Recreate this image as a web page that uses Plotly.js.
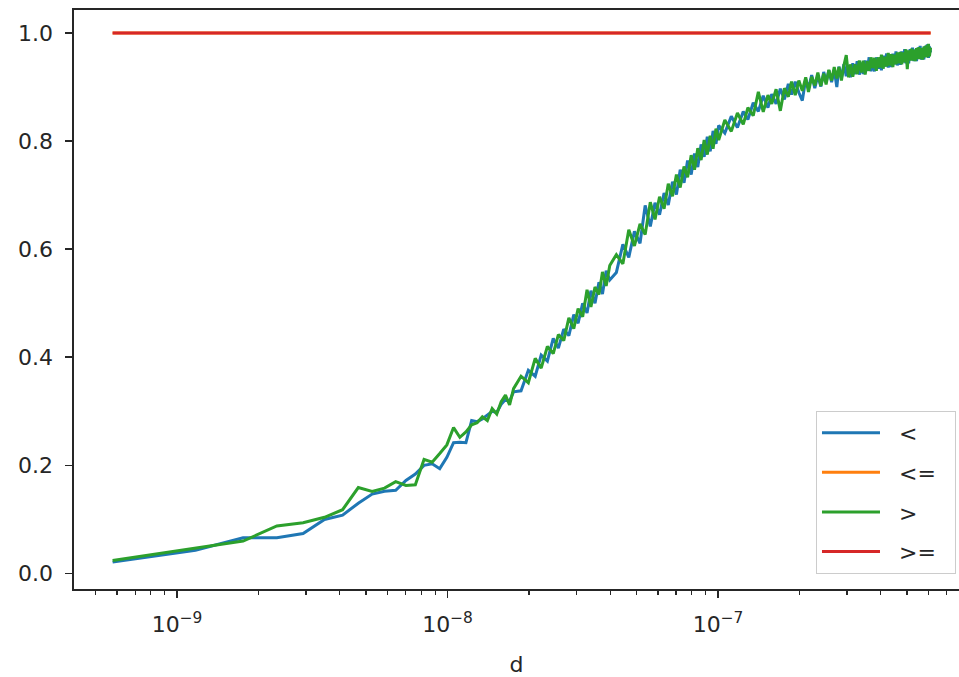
<!DOCTYPE html>
<html>
<head>
<meta charset="utf-8">
<script src="https://cdn.plot.ly/plotly-3.0.1.min.js"></script>
<style>html,body{margin:0;padding:0;background:#fff;}#chart{width:959px;height:677px;}</style>
</head>
<body>
<div id="chart"></div>
<script>
// shared x values (d)
const d = [
  5.78e-10, 1.17e-9, 1.755e-9, 2.34e-9, 2.925e-9, 3.51e-9, 4.095e-9, 4.68e-9, 5.265e-9, 5.85e-9,
  6.435e-9, 7.02e-9, 7.605e-9, 8.19e-9, 8.775e-9, 9.36e-9, 9.945e-9, 1.053e-8, 1.111e-8, 1.17e-8,
  1.2285e-8, 1.287e-8, 1.3455e-8, 1.404e-8, 1.4625e-8, 1.521e-8, 1.5795e-8, 1.638e-8, 1.6965e-8, 1.755e-8,
  1.87e-8, 1.99e-8, 2.11e-8, 2.22e-8, 2.34e-8, 2.46e-8, 2.57e-8, 2.69e-8, 2.81e-8, 2.93e-8,
  3.04e-8, 3.16e-8, 3.28e-8, 3.39e-8, 3.51e-8, 3.63e-8, 3.74e-8, 3.86e-8, 3.98e-8,
  4.21e-8, 4.45e-8, 4.68e-8, 4.91e-8, 5.15e-8, 5.38e-8, 5.62e-8, 5.85e-8, 6.08e-8, 6.32e-8,
  6.55e-8, 6.79e-8, 7.02e-8, 7.25e-8, 7.49e-8, 7.72e-8, 7.96e-8, 8.19e-8, 8.42e-8, 8.66e-8,
  8.89e-8, 9.13e-8, 9.36e-8, 9.59e-8, 9.83e-8, 1.006e-7,
  1.06e-7, 1.12e-7, 1.18e-7, 1.24e-7, 1.29e-7, 1.35e-7, 1.41e-7, 1.47e-7, 1.53e-7, 1.58e-7,
  1.64e-7, 1.70e-7, 1.76e-7, 1.82e-7, 1.87e-7, 1.93e-7, 1.99e-7, 2.05e-7, 2.11e-7, 2.16e-7,
  2.22e-7, 2.28e-7, 2.34e-7, 2.40e-7, 2.46e-7, 2.51e-7, 2.57e-7, 2.63e-7, 2.69e-7, 2.75e-7,
  2.80e-7, 2.86e-7, 2.92e-7, 2.98e-7, 3.04e-7, 3.09e-7, 3.15e-7, 3.21e-7, 3.27e-7, 3.33e-7,
  3.39e-7, 3.44e-7, 3.50e-7, 3.56e-7, 3.62e-7, 3.68e-7, 3.73e-7, 3.79e-7, 3.85e-7, 3.91e-7,
  3.97e-7, 4.02e-7, 4.08e-7, 4.14e-7, 4.20e-7, 4.26e-7, 4.31e-7, 4.37e-7, 4.43e-7, 4.49e-7,
  4.55e-7, 4.60e-7, 4.66e-7, 4.72e-7, 4.78e-7, 4.84e-7, 4.90e-7, 4.95e-7, 5.01e-7, 5.07e-7,
  5.13e-7, 5.19e-7, 5.24e-7, 5.30e-7, 5.36e-7, 5.42e-7, 5.48e-7, 5.53e-7, 5.59e-7, 5.65e-7,
  5.71e-7, 5.77e-7, 5.82e-7, 5.88e-7, 5.94e-7, 6.00e-7, 6.05e-7, 6.11e-7
];

// series "<"
const lt = [
  0.021, 0.043, 0.066, 0.066, 0.074, 0.100, 0.108, 0.130, 0.147, 0.152,
  0.154, 0.172, 0.184, 0.200, 0.203, 0.194, 0.215, 0.242, 0.243, 0.242,
  0.283, 0.281, 0.286, 0.293, 0.300, 0.298, 0.313, 0.322, 0.319, 0.336,
  0.338, 0.376, 0.365, 0.404, 0.393, 0.435, 0.417, 0.452, 0.440, 0.479,
  0.463, 0.500, 0.482, 0.523, 0.500, 0.539, 0.517, 0.560, 0.543,
  0.557, 0.609, 0.585, 0.633, 0.611, 0.681, 0.642, 0.686, 0.664, 0.704,
  0.682, 0.725, 0.701, 0.747, 0.723, 0.764, 0.738, 0.777, 0.752, 0.794,
  0.771, 0.808, 0.781, 0.819, 0.795, 0.829,
  0.815, 0.846, 0.825, 0.855, 0.840, 0.871, 0.855, 0.884, 0.862, 0.887,
  0.869, 0.897, 0.877, 0.906, 0.886, 0.910, 0.890, 0.875, 0.915, 0.897,
  0.922, 0.898, 0.921, 0.901, 0.928, 0.909, 0.931, 0.909, 0.932, 0.900,
  0.938, 0.917, 0.942, 0.920, 0.941, 0.918, 0.944, 0.924, 0.948, 0.923,
  0.945, 0.924, 0.949, 0.930, 0.955, 0.929, 0.951, 0.929, 0.955, 0.934,
  0.954, 0.931, 0.958, 0.938, 0.962, 0.936, 0.958, 0.937, 0.962, 0.942,
  0.966, 0.940, 0.962, 0.941, 0.966, 0.946, 0.970, 0.944, 0.966, 0.944,
  0.970, 0.950, 0.973, 0.948, 0.969, 0.948, 0.973, 0.953, 0.976, 0.951,
  0.972, 0.951, 0.976, 0.956, 0.979, 0.954, 0.975, 0.964
];

// series ">"
const gt = [
  0.024, 0.046, 0.060, 0.088, 0.094, 0.104, 0.118, 0.159, 0.152, 0.158,
  0.170, 0.163, 0.164, 0.211, 0.206, 0.222, 0.238, 0.270, 0.252, 0.262,
  0.275, 0.279, 0.290, 0.283, 0.305, 0.295, 0.318, 0.330, 0.312, 0.342,
  0.365, 0.353, 0.398, 0.380, 0.420, 0.407, 0.442, 0.431, 0.473, 0.453,
  0.490, 0.475, 0.525, 0.493, 0.530, 0.516, 0.558, 0.532, 0.570,
  0.590, 0.573, 0.636, 0.606, 0.647, 0.627, 0.687, 0.655, 0.697, 0.675,
  0.721, 0.698, 0.738, 0.714, 0.753, 0.733, 0.774, 0.747, 0.787, 0.765,
  0.802, 0.775, 0.810, 0.786, 0.823, 0.802,
  0.839, 0.818, 0.852, 0.831, 0.862, 0.847, 0.891, 0.854, 0.885, 0.869,
  0.896, 0.856, 0.898, 0.882, 0.910, 0.885, 0.912, 0.893, 0.918, 0.891,
  0.919, 0.903, 0.927, 0.902, 0.925, 0.905, 0.932, 0.912, 0.937, 0.916,
  0.937, 0.912, 0.940, 0.959, 0.918, 0.942, 0.919, 0.942, 0.924, 0.949,
  0.927, 0.949, 0.923, 0.948, 0.930, 0.955, 0.935, 0.954, 0.930, 0.955,
  0.936, 0.960, 0.934, 0.956, 0.938, 0.963, 0.940, 0.961, 0.937, 0.960,
  0.942, 0.964, 0.944, 0.965, 0.942, 0.964, 0.946, 0.970, 0.933, 0.968,
  0.949, 0.971, 0.949, 0.969, 0.948, 0.972, 0.952, 0.974, 0.952, 0.972,
  0.951, 0.975, 0.955, 0.977, 0.955, 0.980, 0.957, 0.973
];

// series "<=" and ">=" (constant, span the same d range)
const dEnds = [5.78e-10, 6.11e-7];
const le = [1.0, 1.0];
const ge = [1.0, 1.0];

const names = ['<', '<=', '>', '>='];
const colors = ['#1f77b4', '#ff7f0e', '#2ca02c', '#d62728'];
const xTickVals = [1e-9, 1e-8, 1e-7];
const xTickText = ['10<sup>\u22129</sup>', '10<sup>\u22128</sup>', '10<sup>\u22127</sup>'];
const yTickVals = [0.0, 0.2, 0.4, 0.6, 0.8, 1.0];
const yTickText = ['0.0', '0.2', '0.4', '0.6', '0.8', '1.0'];

const series = [[d, lt], [dEnds, le], [d, gt], [dEnds, ge]];
const traces = series.map((s, i) => ({
  x: s[0], y: s[1], type: 'scatter', mode: 'lines',
  name: '\u00a0\u00a0' + names[i] + '\u00a0\u00a0',
  legendgroup: 'g' + i,
  line: {color: colors[i], width: 3}
}));

const font = {family: 'DejaVu Sans, sans-serif', size: 22, color: '#262626'};
const layout = {
  width: 959, height: 677,
  margin: {l: 74, r: 0, t: 10, b: 88, pad: 0},
  paper_bgcolor: '#fff', plot_bgcolor: '#fff',
  font: font,
  showlegend: true,
  legend: {
    x: 0.9966, y: 0.026, xanchor: 'right', yanchor: 'bottom',
    bgcolor: 'rgba(255,255,255,0.8)', bordercolor: '#cccccc', borderwidth: 1,
    font: font, traceorder: 'grouped', tracegroupgap: 8, itemwidth: 58
  },
  xaxis: {
    type: 'log', range: [-9.3808, -6.109],
    tickvals: xTickVals, ticktext: xTickText,
    ticks: 'outside', ticklen: 7, tickwidth: 1.6, tickcolor: '#262626',
    ticklabelstandoff: 8,
    minor: {ticks: 'outside', ticklen: 4, tickwidth: 1.2, tickcolor: '#262626', dtick: 'D1', showgrid: false},
    showline: true, linecolor: '#262626', linewidth: 1.6, mirror: true,
    showgrid: false, zeroline: false,
    tickfont: font,
    title: {text: 'd', font: font, standoff: 20}
  },
  yaxis: {
    range: [-0.0287, 1.0426],
    tickvals: yTickVals, ticktext: yTickText,
    ticks: 'outside', ticklen: 7, tickwidth: 1.6, tickcolor: '#262626',
    ticklabelstandoff: 8,
    showline: true, linecolor: '#262626', linewidth: 1.6, mirror: false,
    showgrid: false, zeroline: false,
    tickfont: font
  }
};

Plotly.newPlot('chart', traces, layout, {staticPlot: true, displayModeBar: false});
</script>
</body>
</html>
